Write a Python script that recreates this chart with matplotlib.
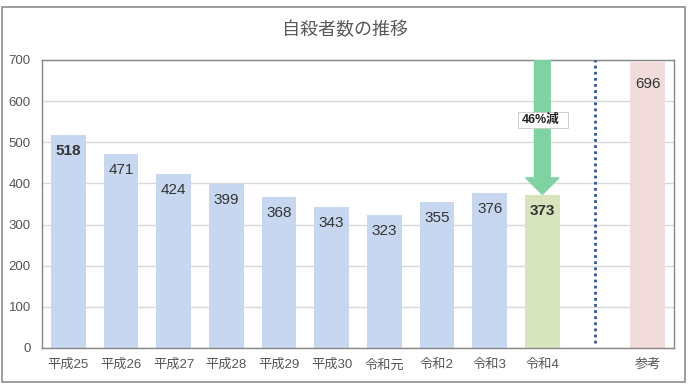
import matplotlib
matplotlib.use("Agg")
import matplotlib.pyplot as plt
from matplotlib.patches import Rectangle, FancyArrow

plt.rcParams['font.family'] = ['Liberation Sans', 'Noto Sans CJK JP', 'DejaVu Sans']

categories = ['平成25', '平成26', '平成27', '平成28', '平成29', '平成30', '令和元', '令和2', '令和3', '令和4', '', '参考']
values = [518, 471, 424, 399, 368, 343, 323, 355, 376, 373, None, 696]
bold_labels = ['平成25', '令和4']
arrow_text = '46%減'
title = '自殺者数の推移'
yticks = [0, 100, 200, 300, 400, 500, 600, 700]

W, H = 690, 389
fig = plt.figure(figsize=(W / 100, H / 100), dpi=100)
fig.patches.append(Rectangle((1.5 / W, 7 / H), 683 / W, 375 / H, transform=fig.transFigure,
                             fill=False, edgecolor='#8c8c8c', linewidth=1.2))
ax = fig.add_axes([42 / W, (H - 348) / H, 632 / W, 288 / H])

blue = '#c6d7ef'
green = '#d8e4bc'
pink = '#f2dcdb'
colors = []
for c in categories:
    if c == '令和4':
        colors.append(green)
    elif c == '参考':
        colors.append(pink)
    else:
        colors.append(blue)

xs = list(range(len(categories)))
for x, v, col, cat in zip(xs, values, colors, categories):
    if v is None:
        continue
    ax.bar(x, v, width=0.66, color=col, zorder=2)
    off = -22 if cat == '参考' else -16
    ax.annotate(str(v), (x, v), xytext=(0, off), textcoords='offset pixels',
                ha='center', va='center', fontsize=11, color='#333333',
                fontweight='bold' if cat in bold_labels else 'normal', zorder=4)

ax.set_xlim(-0.5, len(categories) - 0.5)
ax.set_ylim(0, 700)
ax.set_yticks(yticks)
ax.set_xticks(xs)
ax.set_xticklabels(categories)
ax.tick_params(axis='both', length=0, labelsize=9.5, colors='#555555')
ax.tick_params(axis='x', pad=8)
ax.tick_params(axis='y', pad=8)
ax.yaxis.grid(True, color='#d9d9d9', linewidth=1, zorder=0)
ax.set_axisbelow(True)
for s in ax.spines.values():
    s.set_color('#868686')
    s.set_linewidth(1)

# dotted separator
sep = categories.index('')
ax.plot([sep, sep], [0 + 12, 700], linestyle=(0, (1, 1.2)), color='#2f5597', linewidth=2, zorder=3)

# arrow from top to reiwa 4
ia = categories.index('令和4')
ax.add_patch(FancyArrow(ia, 700, 0, -(700 - values[ia]) + 0.5, width=0.3, head_width=0.63,
                        head_length=40, length_includes_head=True,
                        color='#7fd3a2', zorder=3))
ax.add_patch(Rectangle((ia + 0.02 - 0.475, 554 - 20), 0.95, 40, facecolor='white',
                       edgecolor='#c8c8c8', linewidth=0.6, zorder=5))
ax.text(ia - 0.04, 554, arrow_text, ha='center', va='center', fontsize=9, fontweight='bold',
        color='#222222', zorder=6)

fig.text(0.5, 1 - 30 / H, title, ha='center', va='center', fontsize=13, color='#595959')

fig.savefig('out.png', dpi=100)
